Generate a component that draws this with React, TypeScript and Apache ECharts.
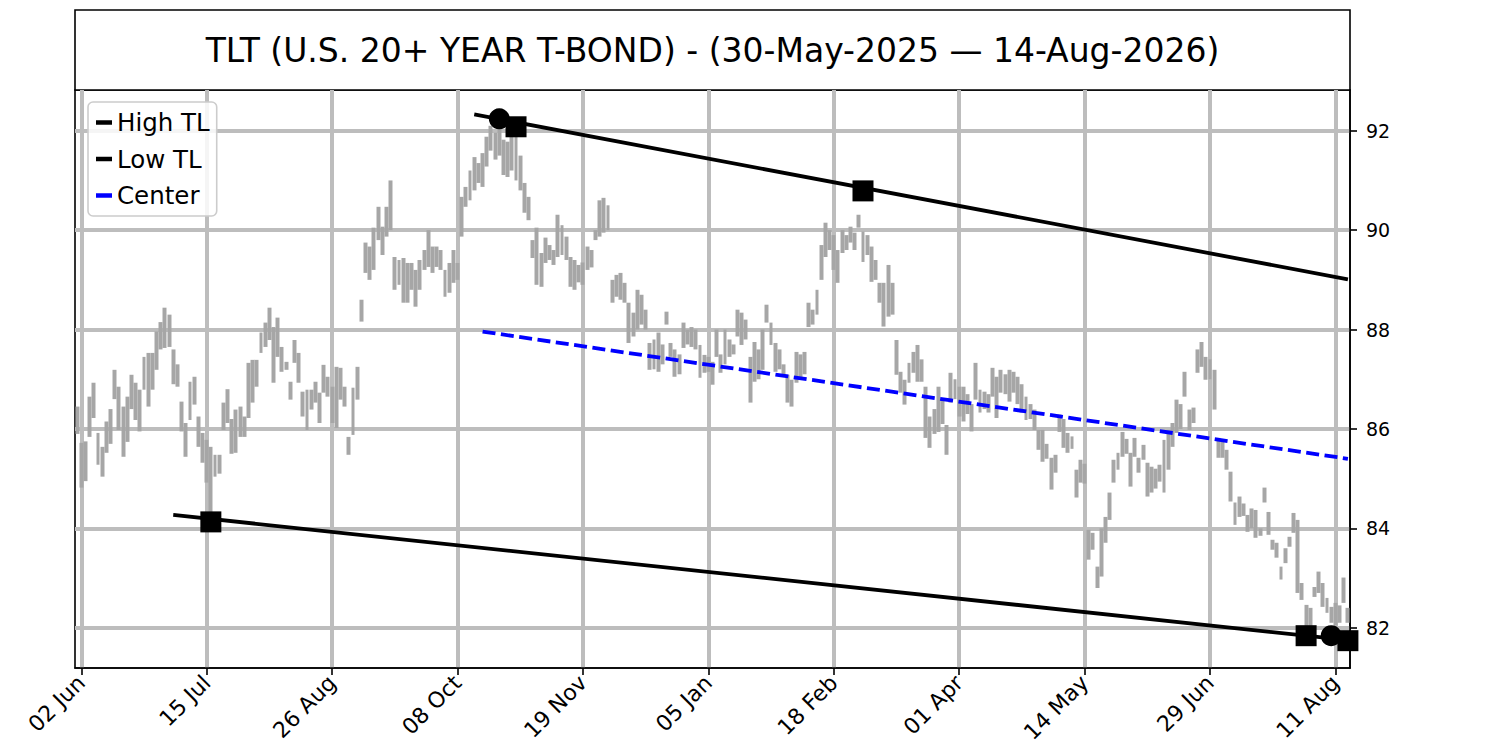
import React, { useEffect, useRef } from "react";
import * as echarts from "echarts";

const TITLE = "TLT (U.S. 20+ YEAR T-BOND) - (30-May-2025 \u2014 14-Aug-2026)";
const START_DATE = "2025-05-30";
const END_DATE = "2026-08-14";
const HOLIDAYS = [
  "2025-07-04", "2025-09-01", "2025-11-27", "2025-12-25", "2026-01-01", "2026-01-19",
  "2026-02-16", "2026-04-03", "2026-05-25", "2026-06-19", "2026-07-03",
];
const TICK_DATES = [
  "2025-06-02", "2025-07-15", "2025-08-26", "2025-10-08", "2025-11-19", "2026-01-05",
  "2026-02-18", "2026-04-01", "2026-05-14", "2026-06-29", "2026-08-11",
];
const MONTHS = ["Jan", "Feb", "Mar", "Apr", "May", "Jun", "Jul", "Aug", "Sep", "Oct", "Nov", "Dec"];
const Y_TICKS = [82, 84, 86, 88, 90, 92];

const LOW = [
  85.90, 84.82, 84.95, 85.84, 86.22, 85.28, 85.04, 85.52, 85.70, 86.60,
  85.98, 85.44, 85.74, 86.40, 86.18, 85.95, 86.79, 86.45, 86.79, 87.19,
  87.60, 87.63, 87.65, 86.90, 86.85, 85.95, 85.44, 86.18, 86.49, 85.64,
  85.32, 84.92, 84.20, 85.04, 85.10, 85.98, 86.12, 85.50, 85.52, 85.84,
  85.84, 86.22, 86.53, 86.85, 87.53, 87.65, 87.79, 86.93, 87.45, 87.15,
  87.19, 86.59, 87.33, 86.93, 86.25, 85.98, 86.39, 86.53, 86.12, 86.73,
  86.65, 86.12, 86.02, 86.59, 86.45, 85.48, 85.88, 86.59, 88.16, 89.14,
  89.00, 89.20, 89.80, 89.50, 89.87, 90.00, 88.80, 88.90, 88.54, 88.54,
  88.80, 88.46, 88.80, 89.20, 89.26, 89.14, 89.26, 89.20, 88.66, 88.74,
  88.94, 89.00, 89.87, 90.47, 90.60, 90.80, 90.95, 90.87, 91.28, 91.60,
  91.42, 91.50, 91.11, 91.07, 91.20, 91.00, 90.80, 90.35, 90.20, 89.44,
  88.90, 88.86, 89.34, 89.40, 89.30, 89.46, 89.50, 89.40, 88.86, 88.80,
  88.95, 88.90, 89.20, 89.25, 89.80, 89.87, 89.95, 90.00, 88.54, 88.66,
  88.60, 88.54, 87.73, 87.86, 88.00, 88.10, 88.00, 87.19, 87.20, 87.15,
  87.30, 88.10, 87.45, 87.05, 87.10, 87.63, 87.70, 87.65, 87.60, 87.03,
  87.13, 87.15, 86.89, 87.45, 87.13, 87.30, 87.45, 87.50, 87.86, 87.69,
  87.80, 86.53, 86.95, 87.00, 87.19, 88.14, 87.69, 87.15, 87.20, 87.05,
  86.53, 86.45, 86.93, 87.00, 87.10, 88.05, 88.10, 88.30, 89.00, 89.46,
  89.60, 89.20, 88.94, 89.54, 89.60, 89.75, 89.60, 90.05, 89.36, 89.50,
  88.96, 89.00, 88.54, 88.06, 88.26, 88.30, 87.09, 86.73, 86.49, 86.93,
  87.13, 86.95, 86.95, 85.82, 85.62, 85.90, 85.94, 86.10, 85.48, 86.53,
  86.60, 86.25, 86.15, 86.30, 85.95, 86.59, 86.33, 86.40, 86.33, 86.65,
  86.22, 86.73, 86.70, 86.55, 86.73, 86.50, 86.33, 86.18, 86.20, 85.98,
  85.58, 85.34, 85.40, 84.78, 85.12, 85.94, 85.62, 85.52, 85.60, 84.62,
  84.92, 84.90, 83.37, 83.57, 82.80, 83.03, 83.71, 84.17, 84.92, 85.18,
  85.44, 85.50, 84.84, 85.44, 85.12, 85.38, 84.64, 84.72, 84.80, 84.94,
  84.72, 85.18, 85.64, 85.92, 86.00, 86.65, 85.98, 86.12, 87.13, 87.25,
  86.99, 87.00, 86.39, 85.42, 85.42, 85.18, 84.54, 84.07, 84.23, 84.25,
  83.93, 84.00, 83.81, 83.85, 84.52, 83.87, 83.57, 83.41, 82.97, 83.30,
  83.63, 83.91, 82.70, 82.56, 81.96, 82.00, 82.62, 82.70, 82.42, 82.30,
  82.10, 82.05, 82.10, 82.50, 82.10,
];

const HIGH = [
  86.45, 85.72, 85.75, 86.65, 86.93, 85.92, 85.64, 86.15, 86.40, 87.19,
  86.85, 86.45, 86.65, 87.09, 86.93, 86.79, 87.45, 87.53, 87.53, 87.96,
  88.15, 88.44, 88.30, 87.60, 87.30, 86.55, 86.12, 86.95, 87.05, 86.25,
  85.92, 85.78, 85.64, 85.48, 85.48, 86.53, 86.80, 86.20, 86.39, 86.45,
  86.25, 87.33, 87.39, 87.39, 87.94, 88.14, 88.44, 88.05, 88.24, 87.65,
  87.35, 86.95, 87.79, 87.53, 86.75, 86.79, 86.79, 86.95, 86.73, 87.29,
  87.05, 86.85, 87.25, 87.23, 86.85, 85.84, 86.83, 87.25, 88.60, 89.75,
  89.67, 90.05, 90.47, 90.07, 90.47, 91.00, 89.46, 89.40, 89.44, 89.34,
  89.34, 89.20, 89.40, 89.60, 90.00, 89.67, 89.67, 89.60, 89.20, 89.34,
  89.60, 89.34, 90.67, 90.87, 91.20, 91.47, 91.35, 91.55, 91.88, 92.10,
  91.96, 92.20, 91.82, 91.78, 91.90, 92.00, 91.50, 90.95, 90.67, 89.80,
  90.05, 89.54, 89.85, 89.70, 89.60, 90.31, 90.10, 89.87, 89.46, 89.40,
  89.30, 89.35, 89.67, 89.60, 90.00, 90.60, 90.65, 90.50, 89.00, 89.10,
  89.14, 88.94, 88.54, 88.34, 88.80, 88.70, 88.40, 87.73, 87.80, 87.94,
  87.70, 88.36, 87.73, 87.60, 87.50, 88.14, 88.00, 88.05, 88.00, 87.69,
  87.49, 87.45, 87.35, 88.00, 87.50, 88.00, 87.80, 87.70, 88.40, 88.34,
  88.20, 87.45, 87.75, 87.60, 88.00, 88.50, 88.14, 87.73, 87.60, 87.30,
  87.09, 86.99, 87.55, 87.50, 87.55, 88.54, 88.40, 88.80, 89.70, 90.15,
  90.00, 89.90, 89.60, 90.00, 89.90, 90.07, 89.95, 90.31, 89.97, 89.90,
  89.67, 89.40, 88.94, 88.94, 89.30, 88.94, 87.79, 87.15, 86.99, 87.33,
  87.55, 87.69, 87.40, 86.85, 86.25, 86.40, 86.85, 86.60, 86.08, 87.13,
  87.00, 86.85, 86.85, 86.70, 86.50, 87.33, 86.79, 86.75, 86.70, 87.23,
  87.05, 87.19, 87.10, 87.19, 87.15, 87.05, 86.90, 86.65, 86.50, 86.39,
  85.98, 85.98, 85.70, 85.42, 85.48, 86.29, 86.20, 85.92, 85.85, 85.18,
  85.38, 85.30, 83.97, 83.91, 83.23, 84.00, 84.23, 84.72, 85.38, 85.52,
  85.94, 85.80, 85.52, 85.82, 85.42, 85.68, 85.32, 85.24, 85.20, 85.28,
  85.78, 85.98, 86.12, 86.59, 86.50, 87.15, 86.39, 86.43, 87.60, 87.75,
  87.45, 87.40, 87.19, 85.82, 85.75, 85.58, 85.14, 84.52, 84.64, 84.50,
  84.27, 84.40, 84.37, 84.00, 84.82, 84.33, 83.77, 83.71, 83.23, 83.60,
  83.83, 84.31, 84.17, 82.90, 82.46, 82.40, 82.82, 83.13, 82.90, 82.60,
  82.42, 82.50, 82.45, 83.01, 82.40,
];

// trend lines: [day index], [value]
const HIGH_TL_X = [95, 304];
const HIGH_TL_Y = [92.33, 89.01];
const LOW_TL_X = [23, 304];
const LOW_TL_Y = [84.27, 81.75];
const CENTER_X = [97, 304];
const CENTER_Y = [87.96, 85.40];

const CIRCLE_X = [101, 300];
const CIRCLE_Y = [92.24, 81.84];
const SQUARE_X = [105, 188, 32, 294, 304];
const SQUARE_Y = [92.08, 90.79, 84.13, 81.84, 81.74];

function tradingDays(): string[] {
  const out: string[] = [];
  const d = new Date(START_DATE + "T00:00:00Z");
  const end = new Date(END_DATE + "T00:00:00Z");
  while (d.getTime() <= end.getTime()) {
    const dow = d.getUTCDay();
    const iso = d.toISOString().slice(0, 10);
    if (dow !== 0 && dow !== 6 && !HOLIDAYS.includes(iso)) out.push(iso);
    d.setUTCDate(d.getUTCDate() + 1);
  }
  return out;
}

const FONT = "DejaVu Sans";

export default function App() {
  const ref = useRef<HTMLDivElement>(null);
  useEffect(() => {
    document.body.style.margin = "0";
    if (!ref.current) return;
    const chart = echarts.init(ref.current, undefined, { renderer: "svg" });
    const dates = tradingDays();
    const isTick = (_i: number, v: string) => TICK_DATES.includes(v);
    const fmt = (v: string) => `${v.slice(8, 10)} ${MONTHS[Number(v.slice(5, 7)) - 1]}`;
    const pairs = (xs: number[], ys: number[]) => xs.map((x, k) => [x, ys[k]]);
    const ohlc = LOW.map((lo, k) => [lo, HIGH[k], lo, HIGH[k]]);

    const option: any = {
      animation: false,
      backgroundColor: "#ffffff",
      textStyle: { fontFamily: FONT },
      graphic: [
        {
          type: "rect",
          shape: { x: 75, y: 10, width: 1275, height: 80 },
          style: { fill: "#ffffff", stroke: "#000000", lineWidth: 1.6 },
        },
        {
          type: "text",
          x: 712.5,
          y: 50,
          style: {
            text: TITLE,
            font: `33px "${FONT}"`,
            fill: "#000000",
            textAlign: "center",
            textVerticalAlign: "middle",
          },
        },
      ],
      legend: {
        orient: "vertical",
        left: 88,
        top: 102,
        padding: [8, 7, 8, 8],
        itemGap: 11.5,
        itemWidth: 16,
        itemHeight: 4.5,
        backgroundColor: "rgba(255,255,255,0.85)",
        borderColor: "#cccccc",
        borderWidth: 1.6,
        borderRadius: 5,
        textStyle: { fontFamily: FONT, fontSize: 24.5, color: "#000000", lineHeight: 25 },
        data: [
          { name: "High TL", icon: "rect" },
          { name: "Low TL", icon: "rect" },
          { name: "Center", icon: "rect" },
        ],
      },
      grid: {
        left: 75,
        right: 150,
        top: 90,
        bottom: 82,
        show: true,
        borderColor: "#000000",
        borderWidth: 1.6,
        backgroundColor: "transparent",
      },
      xAxis: {
        type: "category",
        data: dates,
        boundaryGap: true,
        axisLine: { show: true, lineStyle: { color: "#000000", width: 1.6 } },
        axisTick: {
          show: true,
          alignWithLabel: true,
          interval: isTick,
          length: 7,
          lineStyle: { color: "#000000", width: 1.6 },
        },
        axisLabel: {
          show: true,
          interval: isTick,
          rotate: 45,
          margin: 11,
          fontSize: 22,
          fontFamily: FONT,
          color: "#000000",
          formatter: fmt,
        },
        splitLine: {
          show: true,
          alignWithLabel: true,
          interval: isTick,
          lineStyle: { color: "#bdbdbd", width: 4 },
        },
      },
      yAxis: {
        type: "value",
        position: "right",
        min: 81.19,
        max: 92.82,
        splitNumber: 6,
        axisLine: { show: true, lineStyle: { color: "#000000", width: 1.6 } },
        axisTick: {
          show: true,
          length: 7,
          customValues: Y_TICKS,
          lineStyle: { color: "#000000", width: 1.6 },
        },
        axisLabel: {
          show: true,
          customValues: Y_TICKS,
          margin: 16,
          fontSize: 19,
          fontFamily: FONT,
          color: "#000000",
        },
        splitLine: { show: true, lineStyle: { color: "#bdbdbd", width: 4 } },
      },
      series: [
        {
          name: "Price",
          type: "candlestick",
          data: ohlc,
          barWidth: 4.4,
          barMaxWidth: 10,
          itemStyle: {
            color: "#a6a6a6",
            color0: "#a6a6a6",
            borderColor: "#a6a6a6",
            borderColor0: "#a6a6a6",
            borderWidth: 0,
          },
          z: 2,
        },
        {
          name: "High TL",
          type: "line",
          data: pairs(HIGH_TL_X, HIGH_TL_Y),
          symbol: "none",
          itemStyle: { color: "#000000" },
          lineStyle: { color: "#000000", width: 3.8 },
          z: 3,
        },
        {
          name: "Low TL",
          type: "line",
          data: pairs(LOW_TL_X, LOW_TL_Y),
          symbol: "none",
          itemStyle: { color: "#000000" },
          lineStyle: { color: "#000000", width: 3.8 },
          z: 3,
        },
        {
          name: "Center",
          type: "line",
          data: pairs(CENTER_X, CENTER_Y),
          symbol: "none",
          itemStyle: { color: "#0000ff" },
          lineStyle: { color: "#0000ff", width: 3.8, type: [13, 5.5] },
          z: 3,
        },
        {
          name: "Pivot circles",
          type: "scatter",
          data: pairs(CIRCLE_X, CIRCLE_Y),
          symbol: "circle",
          symbolSize: 21,
          clip: false,
          itemStyle: { color: "#000000", opacity: 1 },
          z: 4,
        },
        {
          name: "Pivot squares",
          type: "scatter",
          data: pairs(SQUARE_X, SQUARE_Y),
          symbol: "rect",
          symbolSize: 21,
          clip: false,
          itemStyle: { color: "#000000", opacity: 1 },
          z: 4,
        },
      ],
    };
    chart.setOption(option);
    return () => chart.dispose();
  }, []);
  return <div ref={ref} style={{ width: 1500, height: 750 }} />;
}
